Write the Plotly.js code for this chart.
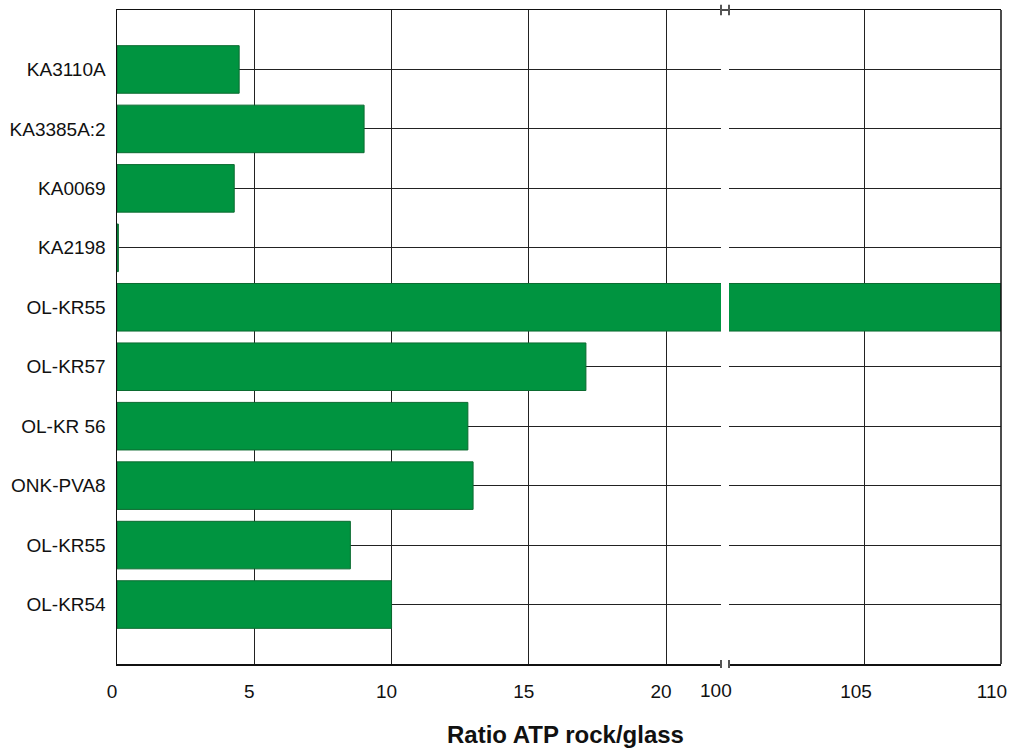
<!DOCTYPE html>
<html>
<head>
<meta charset="utf-8">
<script src="https://cdn.plot.ly/plotly-3.0.1.min.js"></script>
<style>html,body{margin:0;padding:0;background:#fff;}#chart{width:1012px;height:754px;}</style>
</head>
<body>
<div id="chart"></div>
<script>
// Data (top to bottom)
const categories = ["KA3110A", "KA3385A:2", "KA0069", "KA2198", "OL-KR55", "OL-KR57", "OL-KR 56", "ONK-PVA8", "OL-KR55", "OL-KR54"];
const ratios = [4.45, 9.0, 4.27, 0.05, 110, 17.08, 12.78, 12.97, 8.5, 10.0];
const leftTicks = [0, 5, 10, 15, 20];
const rightTicks = [105, 110];
const breakLabel = "100";
const axisTitle = "Ratio ATP rock/glass";

const positions = categories.map((c, i) => i);
const barFill = "#009440";
const barLine = "#0b6b30";
const gridCol = "#222222";

// Bars that reach the upper segment of the broken axis
const upperPos = positions.filter(i => ratios[i] > 22);
const upperVals = upperPos.map(i => ratios[i]);

const traceLow = {
  type: "bar", orientation: "h",
  x: ratios, y: positions,
  xaxis: "x", yaxis: "y",
  width: 0.8,
  marker: {color: barFill, line: {color: barLine, width: 1}},
  hoverinfo: "x+text", text: categories, textposition: "none"
};
const traceHigh = {
  type: "bar", orientation: "h",
  x: upperVals, y: upperPos, base: 0,
  xaxis: "x2", yaxis: "y",
  width: 0.8,
  marker: {color: barFill, line: {color: barLine, width: 1}},
  hoverinfo: "x", textposition: "none"
};

const W = 884;
const d1 = 604 / W, d2 = 612 / W;
const tickFont = {family: "Liberation Sans, Arial, sans-serif", size: 19, color: "#111"};

const lineStyle = {color: "#111", width: 1.5};
const markStyle = {color: "#555", width: 2};

const shapes = [
  {type: "line", xref: "paper", yref: "paper", x0: d1, x1: d2, y0: 1, y1: 1, line: lineStyle},
  {type: "line", xref: "paper", yref: "paper", x0: 1, x1: 1, y0: 0, y1: 1, line: lineStyle},
  {type: "line", xref: "paper", yref: "paper", x0: d1, x1: d1, y0: 0.992, y1: 1.008, line: markStyle},
  {type: "line", xref: "paper", yref: "paper", x0: d2, x1: d2, y0: 0.992, y1: 1.008, line: markStyle},
  {type: "line", xref: "paper", yref: "paper", x0: d1, x1: d1, y0: -0.006, y1: 0.006, line: markStyle},
  {type: "line", xref: "paper", yref: "paper", x0: d2, x1: d2, y0: -0.006, y1: 0.006, line: markStyle}
];

const layout = {
  width: 1012, height: 754,
  margin: {l: 117, r: 11, t: 10, b: 90},
  paper_bgcolor: "#fff", plot_bgcolor: "#fff",
  showlegend: false,
  xaxis: {
    domain: [0, d1], range: [0, 22],
    tickmode: "array", tickvals: leftTicks, ticktext: leftTicks.map(String),
    showgrid: true, gridcolor: gridCol, gridwidth: 1,
    zeroline: false, showline: true, mirror: true, linecolor: "#111", linewidth: 1.5,
    ticks: "", tickfont: tickFont, ticklabelstandoff: 10, ticklabelshift: -5,
    anchor: "y", fixedrange: true
  },
  xaxis2: {
    domain: [d2, 1], range: [100, 110.0005],
    tickmode: "array", tickvals: rightTicks, ticktext: rightTicks.map(String),
    showgrid: true, gridcolor: gridCol, gridwidth: 1,
    zeroline: false, showline: true, mirror: true, linecolor: "#111", linewidth: 1.5,
    ticks: "", tickfont: tickFont, ticklabelstandoff: 10, ticklabelshift: -9,
    ticklabeloverflow: "allow",
    anchor: "y", fixedrange: true
  },
  yaxis: {
    range: [categories.length, -1],
    tickmode: "array", tickvals: positions, ticktext: categories,
    showgrid: true, gridcolor: gridCol, gridwidth: 1,
    zeroline: false, showline: true, linecolor: "#111", linewidth: 1.5,
    ticks: "", tickfont: tickFont, ticklabelstandoff: 6,
    fixedrange: true
  },
  shapes: shapes,
  annotations: [
    {xref: "paper", yref: "paper", x: (716 - 117) / W, y: 0, yshift: -14, yanchor: "top", xanchor: "center",
     text: breakLabel, showarrow: false, font: tickFont},
    {xref: "paper", yref: "paper", x: (565 - 117) / W, y: 0, yshift: -55, yanchor: "top", xanchor: "center",
     text: "<b>" + axisTitle + "</b>", showarrow: false,
     font: {family: "Liberation Sans, Arial, sans-serif", size: 24, color: "#111"}}
  ]
};

Plotly.newPlot("chart", [traceLow, traceHigh], layout, {displayModeBar: false, staticPlot: true});
</script>
</body>
</html>
